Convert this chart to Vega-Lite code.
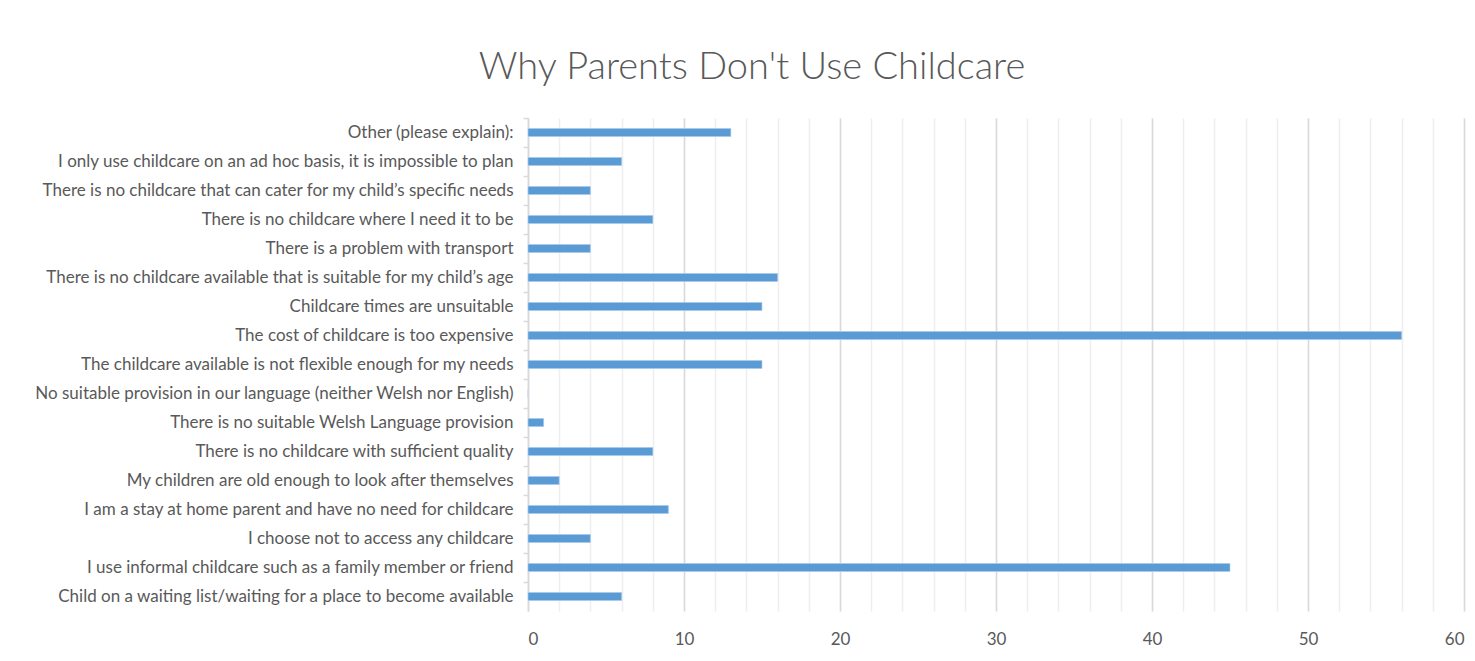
{
  "$schema": "https://vega.github.io/schema/vega-lite/v6.json",
  "autosize": "none",
  "width": 936,
  "height": 493,
  "padding": {"left": 528, "top": 118, "right": 11, "bottom": 50},
  "background": "white",
  "title": {
    "text": "Why Parents Don't Use Childcare",
    "font": "Lato",
    "fontWeight": 300,
    "fontSize": 38,
    "color": "#595959",
    "anchor": "middle",
    "frame": "group",
    "dx": -244,
    "dy": 42,
    "baseline": "alphabetic",
    "offset": 42
  },
  "data": {
    "values": [
      {"reason": "Other (please explain):", "count": 13},
      {"reason": "I only use childcare on an ad hoc basis, it is impossible to plan", "count": 6},
      {"reason": "There is no childcare that can cater for my child’s specific needs", "count": 4},
      {"reason": "There is no childcare where I need it to be", "count": 8},
      {"reason": "There is a problem with transport", "count": 4},
      {"reason": "There is no childcare available that is suitable for my child’s age", "count": 16},
      {"reason": "Childcare times are unsuitable", "count": 15},
      {"reason": "The cost of childcare is too expensive", "count": 56},
      {"reason": "The childcare available is not flexible enough for my needs", "count": 15},
      {"reason": "No suitable provision in our language (neither Welsh nor English)", "count": 0},
      {"reason": "There is no suitable Welsh Language provision", "count": 1},
      {"reason": "There is no childcare with sufficient quality", "count": 8},
      {"reason": "My children are old enough to look after themselves", "count": 2},
      {"reason": "I am a stay at home parent and have no need for childcare", "count": 9},
      {"reason": "I choose not to access any childcare", "count": 4},
      {"reason": "I use informal childcare such as a family member or friend", "count": 45},
      {"reason": "Child on a waiting list/waiting for a place to become available", "count": 6}
    ]
  },
  "layer": [
    {
      "mark": {"type": "bar", "height": 8, "color": "#5b9bd5", "stroke": "#c9ddf0", "strokeWidth": 0.5},
      "encoding": {
        "y": {
          "field": "reason", "type": "nominal", "sort": null, "title": null,
          "scale": {"paddingInner": 0, "paddingOuter": 0},
          "axis": {
            "labelFont": "Lato", "labelFontSize": 17, "labelColor": "#595959",
            "labelPadding": 10, "labelLimit": 600,
            "domainColor": "#d9d9d9", "domainWidth": 1.5,
            "tickColor": "#d9d9d9", "tickSize": 5, "tickWidth": 1.5, "bandPosition": 0,
            "grid": false
          }
        },
        "x": {
          "field": "count", "type": "quantitative", "title": null,
          "scale": {"domain": [0, 60], "nice": false},
          "axis": {
            "orient": "bottom",
            "values": [0,2,4,6,8,10,12,14,16,18,20,22,24,26,28,30,32,34,36,38,40,42,44,46,48,50,52,54,56,58,60],
            "grid": true, "gridColor": "#eeeeee", "gridWidth": 1.5,
            "labels": false, "ticks": false, "domain": false
          }
        }
      }
    },
    {
      "mark": {"type": "bar", "height": 8, "color": "#5b9bd5", "stroke": "#c9ddf0", "strokeWidth": 0.5},
      "encoding": {
        "y": {"field": "reason", "type": "nominal", "sort": null, "title": null},
        "x": {
          "field": "count", "type": "quantitative", "title": null,
          "axis": {
            "orient": "bottom",
            "values": [0,10,20,30,40,50,60],
            "grid": true, "gridColor": "#d9d9d9", "gridWidth": 1.5,
            "labelFont": "Lato", "labelFontSize": 17, "labelColor": "#595959",
            "labelPadding": 20, "ticks": false, "domain": false
          }
        }
      }
    }
  ],
  "resolve": {"axis": {"x": "independent"}},
  "config": {"view": {"stroke": null}}
}
